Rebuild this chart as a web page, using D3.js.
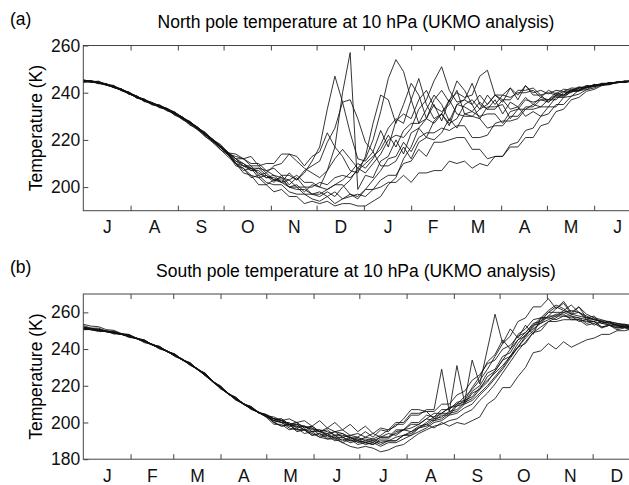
<!DOCTYPE html>
<html>
<head>
<meta charset="utf-8">
<script src="https://cdn.jsdelivr.net/npm/d3@7"></script>
<style>
body{margin:0;background:#fff;}
svg{display:block;font-family:"Liberation Sans",Arial,Helvetica,sans-serif;}
.axis path{display:none;}
.axis line{stroke:#444;}
.axis text{fill:#111;font-size:17.5px;}
</style>
</head>
<body>
<div class="chart-container"></div>
<script>
// day of the year counted from the first month shown in each panel
const days = [0,5,10,15,20,25,30,35,40,45,50,55,60,65,70,75,80,85,90,95,
  100,105,110,115,120,125,130,135,140,145,150,155,160,165,170,175,180,185,190,195,
  200,205,210,215,220,225,230,235,240,245,250,255,260,265,270,275,280,285,290,295,
  300,305,310,315,320,325,330,335,340,345,350,355,360,365];

const northMonths = ['J','A','S','O','N','D','J','F','M','A','M','J'];
const northMonthLength = [31,31,30,31,30,31,31,28,31,30,31,30];
const southMonths = ['J','F','M','A','M','J','J','A','S','O','N','D'];
const southMonthLength = [31,28,31,30,31,30,31,31,30,31,30,31];
const northTicks = [200,220,240,260];
const southTicks = [180,200,220,240,260];

// North pole, 10 hPa, one row per winter (Jul -> Jun)
const northSeries = [
  [245.2,245,244.5,243.8,242.8,241.5,240,238.5,237,235.8,234.5,233.2,231.5,229.5,227.4,225.2,222.6,220,217.3,214.5,
   212,209,209,205,206,203,204,200,201,198, 201,200,207,217,240,257,199,205,204,211,
   213,220,214,223,225,221,228,231,226,235, 234,232,236,233,237,231,236,234,238,235,
   238,237,240,239,241.5,241,243,242.5,243.8,243.5, 244.5,244.3,244.9,245],
  [244.8,244.6,244.2,243.3,242.3,241,239.5,238,236.5,235.2,234,232.8,231,229,227,224.7,222.2,219.5,216.8,214,
   213,212,210,210,207,208,205,205,203,206, 211,217,233,247,236,223,212,211,215,224,
   217,228,231,229,237,241,234,232,235,241, 231,230,233,239,235,239,238,240,240,241,
   238,241,239.5,241.5,241,242.5,242,243.5,243.3,244.3, 244.3,245,244.8,245.2],
  [245.5,244.6,244.9,243.4,243.1,240.8,240.2,237.6,237.2,234.8,234.6,232.2,231.6,228.6,227.6,224.3,222.8,219,217.2,213.4,
   211,209,208,206,204,204,202,200,200,197, 197,196,198,196,200,203,208,212,220,232,
   246,254,249,237,227,233,239,235,228,235, 237,235,229,234,234,235,229,233,233,235,
   234,237,237,240,240,242,242,243.5,243.2,244.3, 244.2,244.9,244.8,245.1],
  [244.6,244.5,244,243.2,242.2,241,239.5,238.1,236.9,235.6,234.6,233.3,231.6,229.7,227.6,225.4,222.8,220.3,217.6,214.8,
   212,212,209,209,206,209,210,214,211,208, 206,204,207,212,216,212,208,206,210,214,
   220,222,221,225,233,237,245,251,241,236, 237,244,235,233,233,237,233,234,230,232,
   230,234,234,238,238.5,241,241.3,243,243,244.2, 244.1,244.8,244.7,245],
  [245.3,245,244.6,243.6,242.4,241.4,240,238.4,236.9,235.4,234.2,232.9,231.2,229.2,227.1,224.9,222.3,219.6,216.9,214,
   210,207,208,204,205,202,205,201,204,200, 200,202,201,204,205,204,207,210,213,216,
   222,217,224,227,227,229,235,228,237,240, 238,239,247,249.5,239,237,237,241,241,242,
   239,240,239,240.5,240.7,242.2,242.1,243.3,243.3,244.2, 244.3,244.8,244.9,245],
  [244.4,245,243.8,243.8,242.1,241.6,239.3,238.7,236.2,235.8,233.6,233.1,230.4,229.3,226.2,224.9,221.3,219.6,215.8,213.8,
   210,208,204,205,202,201,201,198,197,197, 195,194,196,193,195,196,197,196,199,200,
   202,202,205,202,206,206,207,207,211,210, 211,208,210,209,213,213,217,217,221,221,
   226,227,232,233,237,238,240.6,241.4,243,243.4, 244.3,244.5,245,245],
  [245.1,244.9,244.3,243.6,242.7,241.5,240.1,238.5,237.1,235.8,234.5,233.2,231.6,229.6,227.5,225.3,222.7,220.1,217.3,214.5,
   211,210,207,207,204,205,202,203,200,200, 197,198,196,198,195,197,195,199,199,203,
   205,205,210,211,216,213,219,219,220,221, 221,216,216,212,213,213,218,219,224,225,
   230,231,235,235,238.5,239.4,241.3,242,243.3,243.6, 244.4,244.5,245,245],
  [244.7,244.6,244.2,243.4,242.4,241.1,239.6,238,236.5,235.1,233.9,232.5,230.7,228.7,226.5,224.2,221.5,218.8,215.9,212.8,
   210,206,205,201,201,198,199,196,196,193, 194,193,194,192,193,193,192,192,194,196,
   201,204,212,217,225,229,227,231,237,231, 230,230,229,225,226,226,230,230,234,234,
   237,237,239,239,241,241.2,242.6,242.8,243.7,243.9, 244.5,244.6,245.1,245.2],
  [245.3,244.5,244.7,243.2,242.9,241,240.3,238,237.4,235.2,234.9,232.8,231.9,229.1,227.9,224.9,223.3,219.9,218.1,214.5,
   214,212,213,209,210,210,214,214,213,209, 213,215,223,217,213,207,206,213,227,239,
   237,227,235,244,239,229,237,241,236,245, 241,235,239,235,239,239,242,239,243,240,
   241,239.5,241,240.5,242,241.8,243,243,244,244, 244.6,244.7,245.1,245.1],
  [244.8,244.7,244.1,243.3,242.3,241.1,239.7,238.1,236.7,235.4,234.2,232.9,231.2,229.2,227.1,224.9,222.2,219.6,216.8,213.9,
   209,208,205,204,201,203,202,206,203,207, 209,211,219,225,236,237,229,219,215,209,
   209,211,217,212,219,221,220,223,229,225, 231,232,230,231,231,227,232,233,237,236,
   237,236,239,239,241,241,242.6,242.8,243.7,243.9, 244.5,244.6,245.1,245],
  [245.1,244.8,244.3,243.5,242.4,241.3,239.9,238.3,236.9,235.6,234.3,233,231.3,229.4,227.3,225.1,222.5,219.9,217.1,214.3,
   210,209,207,208,207,205,204,203,205,202, 202,200,199,201,203,206,210,208,212,218,
   225,229,227,237,246,235,229,231,227,229, 235,237,233,235,239,236,242,237,243,239,
   239,236,238.5,238.5,240.5,240.7,242.3,242.6,243.6,243.7, 244.4,244.5,245,245],
  [244.5,245.1,243.9,243.8,242.2,241.7,239.4,238.7,236.4,235.9,233.8,233.4,230.9,229.8,226.8,225.4,221.9,220.2,216.5,214.5,
   212,210,208,208,205,203,203,200,199,199, 197,197,199,201,201,197,196,199,203,207,
   212,213,219,215,221,223,223,225,224,226, 226,221,221,222,227,228,228,229,233,233,
   234,234,238,238,240.5,240.7,242.3,242.6,243.6,243.7, 244.4,244.5,245,245]
];

// South pole, 10 hPa, one row per year (Jan -> Dec)
const southSeries = [
  [251,250.6,250.1,249.5,248.7,248,246.8,245.6,244,242.3,240.5,238.6,236.4,234,231.5,228.7,225.6,222,218.7,215.5,212.6,210,207.5,205.3,203.2,
   202,200,200,197,198,195,196,193,195,192, 193,192,195,192,196,195,199,199,204,204,
   207,207,229,206,231,211,234,221,240,259, 243,251,246,253,248,257,257,256,258,258,
   255,256,253,255,253,253.5,252,252.3,251.5],
  [253.5,252.5,252.2,250.6,250.2,248.5,248,245.9,245,242.5,241.4,238.6,237.3,234.1,232.6,228.8,226.9,222.2,220,215.8,213.8,210.2,208.8,205.5,204.4,
   202,202,199,200,197,198,195,197,195,196, 193,194,192,194,192,194,193,196,195,198,
   199,197,200,198,200,199,201,203,210,213, 219,219,225,230,238,239,243,240,244,241,
   243,245,246,248,248,250,250,251,251],
  [251.6,251,250.4,249.8,249,248.2,247.1,245.9,244.4,242.7,240.9,239,236.9,234.5,232,229.3,226.3,222.6,219.2,216,213,210.4,208,205.7,203.6,
   201,200,198,198,196,195,195,193,192,192, 190,190,189,188,190,190,192,193,195,197,
   200,203,205,208,210,214,218,223,229,236, 243,247,255,257,263,263,267.5,262,265,259,
   263,257,258,254,255,253,253.5,252,252],
  [250.9,250.5,250,249.4,248.8,248,246.9,245.7,244.1,242.4,240.6,238.7,236.5,234.2,231.7,228.9,225.8,222.1,218.8,215.6,212.6,210,207.6,205.3,203.3,
   201,202,199,200,197,198,195,196,193,194, 191,192,190,191,189,190,190,193,193,197,
   198,201,202,205,206,210,212,216,220,225, 230,236,241,246,250,255,258,262,266,260,
   263,259,257,256,254.5,254,253,252.5,252],
  [252.8,251.4,251.4,249.8,249.7,248,247.7,245.6,244.8,242.2,241.3,238.5,237.2,233.9,232.4,228.7,226.7,221.9,219.7,215.4,213.5,209.8,208.5,205.1,204.2,
   200,198,199,195,196,193,194,191,192,189, 191,188,189,188,191,191,195,196,200,200,
   204,203,207,207,211,212,219,225,233,237, 245,240,248,251,256,257,257,259,259,256,
   256,255,255,252,253,251.5,252,250.7,250.8],
  [251.2,250.7,250.2,249.5,248.8,248,246.9,245.7,244.1,242.4,240.6,238.6,236.4,234.1,231.6,228.8,225.9,222.2,218.9,215.7,212.7,210.1,207.7,205.4,203.4,
   201,200,197,196,196,194,192,191,191,189, 187,186,187,186,184,185,187,188,191,194,
   196,198,199,201,202,205,207,212,216,221, 227,233,239,244,249,252,255,257,260,258,
   257,256,255,254,253,252.5,252,251.5,251],
  [251.5,251,250.4,249.8,249.1,248.3,247.2,246,244.4,242.7,240.9,239,236.8,234.5,232,229.2,226.2,222.5,219.2,216,213,210.4,208,205.7,203.7,
   203,201,202,200,201,198,201,197,200,196, 199,195,198,194,197,196,200,200,205,205,
   206,206,210,210,215,217,223,226,232,234, 240,242,247,249,254,255,260,260,260,261,
   260,256,257,254,255,252,253,251.5,251.5],
  [250.5,250.7,249.5,249.7,248.2,248.2,246.3,245.9,243.5,242.6,240,238.9,235.9,234.4,231.1,229.1,225.3,222.4,218.3,215.9,212.1,210.3,207.1,205.6,202.8,
   199,199,196,197,194,195,192,193,190,191, 189,190,188,189,187,189,189,191,193,195,
   197,200,201,204,205,208,210,215,219,224, 229,235,241,247,252,256,260,263,261,264,
   260,258,256,255,254,253,252,251.5,251],
  [251.4,250.9,250.3,249.7,249,248.2,247.1,245.9,244.3,242.6,240.8,238.9,236.7,234.4,231.9,229.1,226.1,222.4,219.1,215.9,212.9,210.3,207.9,205.6,203.6,
   202,201,199,199,198,196,196,195,193,193, 192,190,192,191,193,196,198,202,207,207,
   206,202,205,205,210,211,217,220,227,229, 236,238,245,247,253,254,258,258,258,257,
   257,254,255,252,253,251.5,252,250.5,250.5],
  [251.1,250.6,250.1,249.5,248.8,248,246.9,245.7,244.1,242.4,240.6,238.7,236.5,234.2,231.7,228.9,225.9,222.2,218.9,215.7,212.7,210.1,207.7,205.4,203.4,
   200,201,198,199,196,197,193,194,191,192, 190,191,189,190,188,190,190,193,194,197,
   199,202,203,206,207,211,213,218,222,228, 234,240,245,249,253,257,261,264,262,259,
   260,257,256,255,254,253,252.5,252,251.5],
  [252.2,250.8,250.9,249.5,249.7,248,247.8,245.7,245,242.4,241.5,238.7,237.4,234.1,232.6,228.9,226.8,222.1,219.8,215.6,213.7,210,208.6,205.3,204.3,
   202,201,199,198,198,197,195,194,195,194, 192,191,191,190,192,192,194,196,197,199,
   202,201,204,204,209,210,216,218,225,228, 234,236,241,243,249,250,255,255,256,256,
   256,253,254,251.5,253,250.5,251.5,250,250],
  [252,251.4,250.7,250,249.2,248.4,247.3,246,244.4,242.7,240.9,238.9,236.7,234.4,231.9,229.1,226.1,222.4,219.1,215.9,212.9,210.3,207.9,205.6,203.6,
   200,198,199,196,196,193,194,192,193,190, 192,189,190,189,192,192,196,196,199,199,
   202,205,205,208,209,212,214,219,223,227, 231,236,243,248,251,254,256,258,261,259,
   258,257,256,255.5,255,254,253.5,253,252.5]
];

const svg_width = 629;
const svg_height = 485;
const chart_width = 556.6;
const chart_height = 165.2;

const svg = d3.select('.chart-container').append('svg')
  .attr('width', svg_width).attr('height', svg_height);

function drawPanel(cfg) {
  const g = svg.append('g').attr('transform', `translate(${cfg.left},${cfg.top})`);

  const xScale = d3.scaleLinear([0, 365], [0, chart_width]);
  const yScale = d3.scaleLinear(cfg.yDomain, [chart_height, 0]);

  // month edges and label positions
  const ends = Array.from(d3.cumsum(cfg.monthLength));
  const starts = [0].concat(ends.slice(0, -1));
  const mids = starts.map((s, i) => (s + ends[i]) / 2);

  // data lines
  const line = d3.line()
    .x((d, i) => xScale(days[i]))
    .y(d => yScale(d));
  g.append('g').selectAll('path')
    .data(cfg.series)
    .join('path')
    .attr('d', line)
    .attr('fill', 'none')
    .attr('stroke', '#111')
    .attr('stroke-width', 0.85)
    .attr('stroke-linejoin', 'round');

  // box
  g.append('rect')
    .attr('width', chart_width).attr('height', chart_height)
    .attr('fill', 'none').attr('stroke', '#444').attr('stroke-width', 1);

  // inward ticks on bottom and top
  g.append('g').attr('class', 'axis')
    .attr('transform', `translate(0,${chart_height})`)
    .call(d3.axisBottom(xScale).tickValues(starts.slice(1)).tickSize(-5).tickFormat(''));
  g.append('g').attr('class', 'axis')
    .call(d3.axisTop(xScale).tickValues(starts.slice(1)).tickSize(-5).tickFormat(''));

  // month letters
  g.append('g').attr('class', 'axis')
    .attr('transform', `translate(0,${chart_height})`)
    .call(d3.axisBottom(xScale).tickValues(mids).tickSize(0).tickPadding(cfg.labelPad)
      .tickFormat((d, i) => cfg.months[i]))
    .selectAll('line').remove();

  // y axis
  g.append('g').attr('class', 'axis')
    .call(d3.axisLeft(yScale).tickValues(cfg.yTicks).tickSize(-5).tickPadding(3));

  g.append('text')
    .attr('transform', `translate(-41,${chart_height / 2}) rotate(-90)`)
    .attr('text-anchor', 'middle')
    .style('font-size', '17.5px')
    .text('Temperature (K)');

  svg.append('text')
    .attr('x', 10).attr('y', cfg.top - 21)
    .style('font-size', '17.5px')
    .text(cfg.tag);
  svg.append('text')
    .attr('x', 356).attr('y', cfg.top - 17.5)
    .attr('text-anchor', 'middle')
    .style('font-size', '17.5px')
    .text(cfg.title);
}

drawPanel({
  left: 83.3, top: 45.5, yDomain: [190, 260], yTicks: northTicks,
  months: northMonths, monthLength: northMonthLength, series: northSeries,
  labelPad: 10, tag: '(a)',
  title: 'North pole temperature at 10 hPa (UKMO analysis)'
});

drawPanel({
  left: 83.3, top: 294, yDomain: [180, 270], yTicks: southTicks,
  months: southMonths, monthLength: southMonthLength, series: southSeries,
  labelPad: 10, tag: '(b)',
  title: 'South pole temperature at 10 hPa (UKMO analysis)'
});
</script>
</body>
</html>
